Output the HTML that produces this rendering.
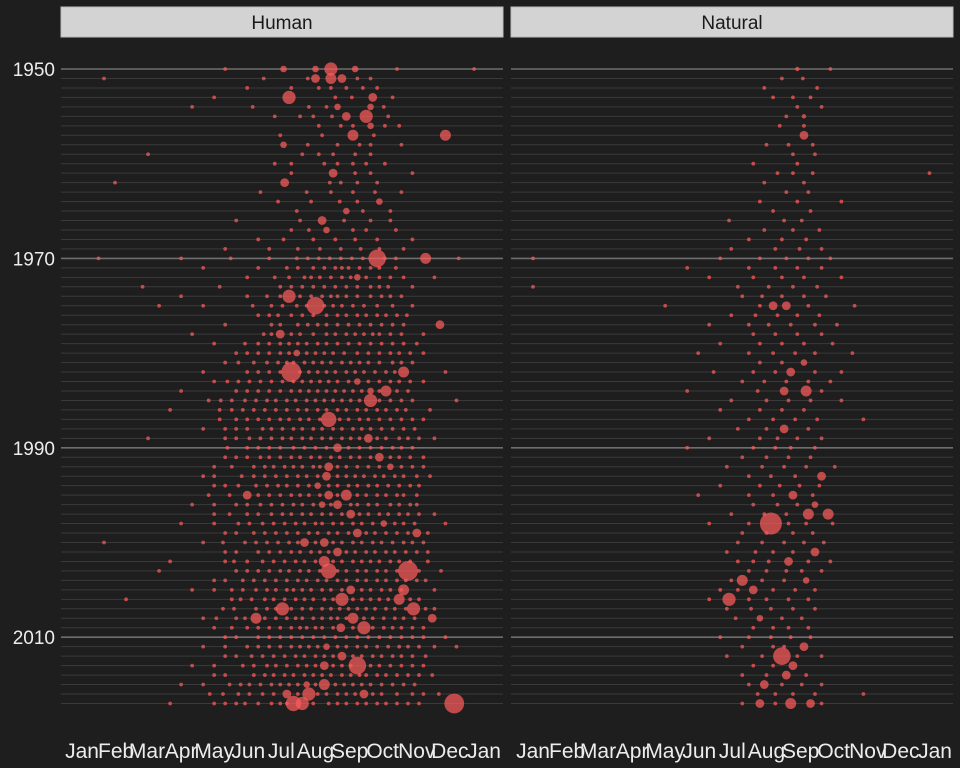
<!DOCTYPE html>
<html><head><meta charset="utf-8"><style>
html,body{margin:0;padding:0;background:#1e1e1e;}
svg{display:block;font-family:"Liberation Sans",sans-serif;}
</style></head><body>
<svg id="chart" width="960" height="768" viewBox="0 0 960 768">
<rect x="0" y="0" width="960" height="768" fill="#1e1e1e"/>
<g id="grid"></g><g id="pts"></g><g id="labels"></g>
</svg>
<script>
const yearTicks = [1950, 1970, 1990, 2010];
const monthLabels = ["Jan","Feb","Mar","Apr","May","Jun","Jul","Aug","Sep","Oct","Nov","Dec","Jan"];
const monthStartDays = [0,31,59,90,120,151,181,212,243,273,304,334,365];
const panelNames = ["Human","Natural"];
const firstYear = 1950;
const humanRows = [
"130 183:3 212:3 226:6 248:3 286 356","20 165 205 212:4 226:5 236:4 250 262","150 190 215 226 240 255 268","120 188:6 230 245 264:4 282","100 155 206 222 232:3 262:3 274","175 198 210 227 240:4 258:6 278","215 235 246 262:3 275 288","180 218 246:5 265 330:5","183:3 205 232 252 262 290","60 200 215 228 248 262",
"175 190 220 232 246 258 275","190 228:4 248 262 300","30 184:4 225 235 250 268","162 204 226 246 266 290","178 208 234 250 270:3","195 240:3 255 280","140 198 218:4 238 262 280","190 206 222:3 246 258 285","160 183 210 230 248 268 300","130 170 196 216 235 253 270 292",
"15 90 135 170 205 225 245 268:8 312:5 342","110 160 186 210 230 242 262 285","150 175 202 216 236 250:3 270 292 320","55 125 180 200 220 240 262 278 300","90 150 168 188:6 208 218 232 250 272 290","70 110 155 172 195 212:8 228 246 268 300","160 178 200 222 240 258 276 295","130 172 196 214 232 252 272 292 325:4","100 165 180:4 198 222 240 256 270 290 310","120 148 170 188 204 222 242 262 282 304",
"140 160 180 195:3 212 228 250 270 288 310","130 156 178 192 210 226 244 260 282 300","110 150 170 190:9 206 222 240 256 276 292:5 330","120 142 162 182 200 216 232 250:3 270 288 310","90 140 160 180 198 214 230 246 262:3 276:5 296","115 136 158 176 194 212 228 244 262:6 280 300 340","80 125 146 166 186 204 222 240 258 276 294 316","125 150 170 188 206 224:7 242 260 280 300","110 140 164 182 200 218 236 254 272 292","60 130 152 172 190 208 226 244 260:4 276 296 320",
"150 170 192 212 232:4 252 272 290","140 162 180 198 216 234 252 270:4 288 310","120 156 174 192 210 224:4 240 260 280:3 300","110 145 166 186 204 222:4 240 256 274 292 316","130 158 178 196 214:3 232 250 268 288 306","115 150:4 170 190 206 224:4 240:5 258 276 292","100 140 162 182 200 218:3 232:4 250 268 288 304","120 150 172 190 208 226 244:4 260 278 296 320","90 142 164 184 202 218 236 254 274:3 292 330","130 156 176 196 214 232 250:4 266 286 304:4",
"20 110 148 168 188 202:4 220:4 236 254 272 292 310","130 160 180 198 216 232:4 248 266 284 304","80 138 164 184 202 220:5 236 254 270 288 314","70 150 170 188 206 224:7 240 258 276 296:9 326","120 146 166 186 204 222 240 258 276 294 312","100 136 158 176 192 208 226 244:4 262 280 292:5 320","40 144 166 184 202 220 236:6 254 270 288:5 306","128 158 176 182:6 200 218 234 250 266 284 301:6 320","110 148 158:5 166 186 200 218 232 246:5 264 284 302 318:4","120 150 170 190 204 218 235:4 256:6 274 290 310",
"130 160 180 200 220 240 260 280 300 330","110 150 170 190 206 222:3 240 258 278 296 320 340","140 164 184 202 220 236:4 254 272 290 312","100 146 168 186 204 220:4 236 250:8 270 290 310","120 156 174 192 210 226 244 258 276 296 318","90 134 152 172 188 204:3 220:5 238 254 272 292","116 142 164 186:4 206:6 222 240 256:4 272 300 324","80 130 148 172 186 192:7 200:6 232 250 268 296 338:9"
];
const humanExtraStartYear = 1970;
const humanExtraRows = [
"195 215 235 255 275 285","196 220 236 252 270","188 208 226 244 258 280","190 210 230 250 270","180 198 226 240 262 280","182 204 220 236 256 282",
"170 190 210 232 250 268 286","180 205 222 242 262 282","172 190 210 230 248 264 280","160 180 196 214 232 252 272 292",
"150 170 188 204 220 238 260 280 298","142 168 186 202 218 236 252 270 290","160 180 198 214 230 248 266 284","132 152 172 192 208 224 242 260 280 298","150 170 190 206 222 238 254 270 286","126 148 168 186 204 220 236 252 270 290","136 156 176 196 214 232 250 268 286","140 160 180 198 216 234 252 270 290 310","130 150 172 192 210 228 246 262 282 302","140 162 182 200 218 236 252 268 288 306",
"132 160 180 202 222 242 262 282 300","130 150 170 190 208 226 244 262 280 298","136 166 184 200 216 232 250 270 290 310","120 156 176 196 214 232 248 266 284 304","120 142 168 186 206 224 242 260 278 298","134 160 180 198 216 232 250 268 286 304","120 150 172 192 210 226 244 260 280 298","134 160 182 200 218 236 252 270 288 306","120 152 174 194 212 228 246 264 284 302","140 166 186 206 224 242 258 276 296 314",
"128 158 178 196 212 228 246 264 282 300","140 170 190 208 224 240 258 276 294 314","130 150 174 194 212 228 246 262 280 298","140 160 180 198 216 232 250 268 286 306","130 156 176 196 214 232 250 268 286 304","120 146 168 186 200 218 236 254 272 290","136 154 174 194 210 228 246 262 278 298","138 168 190 208 226 242 258 276 294 312","122 140 176 194 210 226 240 256 274 292","136 160 180 198 212 228 246 264 282 300",
"140 170 190 210 230 250 270 290 310","130 160 180 198 214 232 250 268 288 306","130 154 174 194 212 228 246 264 282 300","120 156 176 196 212 228 244 262 280 300","130 166 184 202 218 236 252 268 286 306","110 144 162 180 196 212 230 246 262 282 302","128 152 174 196 214 232 248 264 286 310","120 140 160 180 210 224 240 258 276 286 306"
];
const naturalRows = [
"240:2 270","226 245","210 258","218 236 252","240 262","230 246:2","224 246","246:4","212 232 254","236 256",
"200 240","222 236 254 360","210 246","230 250","206 240 280","218 252","178 228 244","210 236 260","196 226 248","180 220 242 262",
"0 170 206 230 250 270","140 196 220 240 262","160 200 226 246 280","0 186 214 236 258","190 208 226 246 266","120 206 218:4 230:4 250 292","180 202 222 240 260","160 196 214 234 256 276","200 220 240 262","170 206 226 246 272",
"150 196 218 238 256 290","206 226 246:3","164 200 220 234:4 256 280","190 210 230 250 270","140 204 228:4 248:5 262","180 212 232 252 280","170 206 226 246","196 218 238 258 300","186 212 228:4 250","160 206 222 240 262",
"140 200 220 234 256","190 212 232 252","176 208 228 248 274","196 216 238 262:4","170 206 224 242 260","150 196 218 236:4 254","200 222 240 256:3","180 210 230 250:5 268:5","160 196 216:10 232 248 272","190 212 236 254",
"186 208 228 246 264","176 202 218 236 256:4","186 200 214 232:4 250 270","196 212 230 244 262","180 190:5 208 228 248:3","170 186 200:4 218 238 256","160 178:6 196 212 232 250","176 198 216 236 256","184 206:3 226 244","200 218 232 250",
"170 196 216 234 252","190 218 228 246:4","176 208 226:8 240 262","200 218 236:4","190 212 230:4 248","196 210:4 226 244 262","204 220 236 256 300","190 206:4 220 234:5 252:4 262"
];
const NS="http://www.w3.org/2000/svg";
const panels=[{x0:61,x1:503,jan:82},{x0:511,x1:953,jan:533}];
const pxPerDay=402/365;
function yScale(yr){return 69+(yr-firstYear)*9.47;}
function xScale(p,d){return panels[p].jan+d*pxPerDay;}
function mk(tag,attrs,parent){const e=document.createElementNS(NS,tag);for(const k in attrs)e.setAttribute(k,attrs[k]);parent.appendChild(e);return e;}
const grid=document.getElementById('grid'),pts=document.getElementById('pts'),labels=document.getElementById('labels');
const nYears=humanRows.length;
function drawRow(pi,row,yr){
  row.split(' ').forEach(tok=>{
    const parts=tok.split(':');const d=+parts[0];const r=parts[1]?+parts[1]*1.1:1.9;
    const c=mk('circle',{cx:xScale(pi,d),cy:yScale(yr),r:r,fill:'rgba(252,92,92,0.72)'},pts);
    
    
  });
}
panels.forEach((pn,pi)=>{
  const strip=mk('rect',{x:pn.x0,y:7,width:pn.x1-pn.x0,height:30,fill:'#d3d3d3',stroke:'#bbbbbb','stroke-width':1},labels);
  
  
  const st=mk('text',{x:(pn.x0+pn.x1)/2,y:29,'text-anchor':'middle','font-size':19,fill:'#1a1a1a'},labels);
  st.textContent=panelNames[pi];
  
  
  for(let i=0;i<nYears;i++){
    const yr=firstYear+i;const major=yearTicks.includes(yr);
    const l=mk('line',{x1:pn.x0,x2:pn.x1,y1:yScale(yr),y2:yScale(yr),stroke:major?'#6e6e6e':'#3a3a3a','stroke-width':major?1.6:1},grid);
    
    
  }
  monthLabels.forEach((m,mi)=>{
    const t=mk('text',{x:xScale(pi,monthStartDays[mi]),y:758,'text-anchor':'middle','font-size':21,fill:'#ececec'},labels);
    t.textContent=m;
    
    
  });
  const rows=pi===0?humanRows:naturalRows;
  rows.forEach((row,i)=>drawRow(pi,row,firstYear+i));
  if(pi===0) humanExtraRows.forEach((row,i)=>drawRow(0,row,humanExtraStartYear+i));
});
yearTicks.forEach(yr=>{
  const t=mk('text',{x:55,y:yScale(yr)+7,'text-anchor':'end','font-size':19,fill:'#ececec'},labels);
  t.textContent=yr;
  
  
});
</script>
</body></html>
